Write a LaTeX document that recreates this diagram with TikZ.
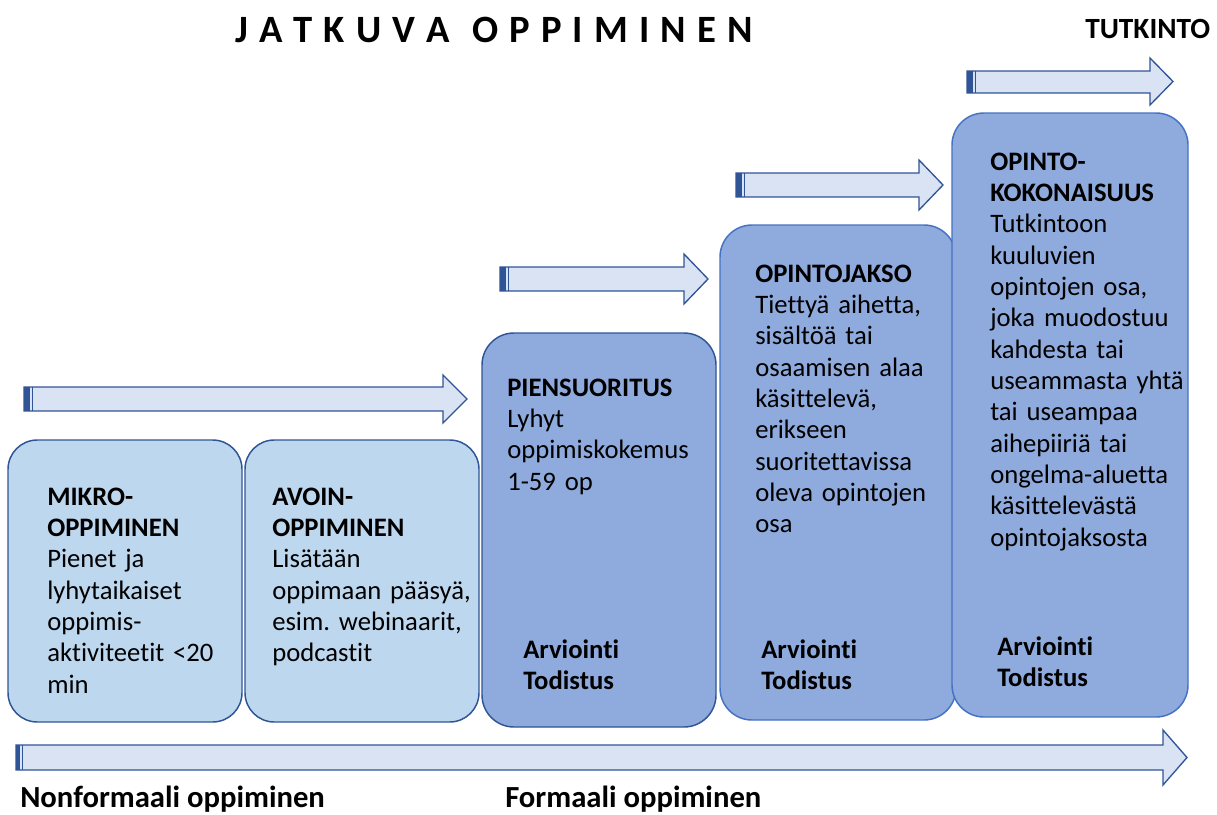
\documentclass[tikz,border=0pt]{standalone}
\usepackage{fontspec}
\setmainfont{Carlito}[RawFeature={-liga;-clig}]
\frenchspacing
\definecolor{lightfill}{HTML}{BDD7EE}
\definecolor{darkfill}{HTML}{8FAADC}
\definecolor{lineA}{HTML}{2F5597}
\definecolor{lineB}{HTML}{4472C4}
\definecolor{arrowfill}{HTML}{DAE3F3}
\newcommand{\striparrow}[7]{%
  \draw[arrowbody] (#1,#4) -- (#2,#4) -- (#2,#6) -- (#3,{(#6+#7)/2}) -- (#2,#7) -- (#2,#5) -- (#1,#5) -- cycle;
  \fill[lineA] (#1,#4) rectangle ({#1+6},#5);
  \draw[lineA, line width=1pt] ({#1+8.5},#4) -- ({#1+8.5},#5);
}
\begin{document}
\begin{tikzpicture}[x=0.75pt,y=-0.75pt,
  lightbox/.style={draw=lineA, fill=lightfill, line width=1.1pt, rounded corners=22pt},
  darkboxA/.style={draw=lineA, fill=darkfill, line width=1.1pt, rounded corners=24pt},
  darkboxB/.style={draw=lineB, fill=darkfill, line width=1.1pt, rounded corners=24pt},
  arrowbody/.style={draw=lineA, fill=arrowfill, line width=1pt, line join=miter},
  boxtext/.style={anchor=base west, inner sep=0pt, text width=160pt, align=left,
    font=\fontsize{20}{23.5}\selectfont},
  label/.style={anchor=base west, inner sep=0pt, font=\bfseries\fontsize{23}{27}\selectfont}
]
\useasboundingbox (0,0) rectangle (1217,814);

% title
\node (title) [anchor=base west, inner sep=0pt, font=\bfseries\fontsize{29}{34}\selectfont] at (235,42)
  {\makebox[388pt][s]{J\hfill A\hfill T\hfill K\hfill U\hfill V\hfill A\hfill\hfill O\hfill P\hfill P\hfill I\hfill M\hfill I\hfill N\hfill E\hfill N}};
\node (tutkinto) [anchor=base west, inner sep=0pt, font=\bfseries\fontsize{22}{26}\selectfont] at (1085,38) {TUTKINTO};

% arrows
\striparrow{24}{443}{467}{387}{411}{375}{423}
\striparrow{500}{684}{708}{267}{291}{254}{304}
\striparrow{736}{919}{943}{173}{197}{160}{210}
\striparrow{967}{1150}{1173}{71}{93}{58}{105}

% boxes
\draw[lightbox] (8,440) rectangle (242,722);
\draw[lightbox] (245,440) rectangle (479,722);
\draw[darkboxA] (482,333) rectangle (716,727);
\draw[darkboxB] (720,225) rectangle (956,720);
\draw[darkboxB] (952,113) rectangle (1188,717);

% box texts
\node (t1) [boxtext] at (47,505) {\textbf{MIKRO-}\\\textbf{OPPIMINEN}\\Pienet ja\\lyhytaikaiset\\oppimis-\\aktiviteetit <20\\min};
\node (t2) [boxtext] at (272,505) {\textbf{AVOIN-}\\\textbf{OPPIMINEN}\\Lisätään\\oppimaan pääsyä,\\esim. webinaarit,\\podcastit};
\node (t3) [boxtext] at (507,396) {\textbf{PIENSUORITUS}\\Lyhyt\\oppimiskokemus\\1-59 op};
\node (t4) [boxtext] at (755,282) {\textbf{OPINTOJAKSO}\\Tiettyä aihetta,\\sisältöä tai\\osaamisen alaa\\käsittelevä,\\erikseen\\suoritettavissa\\oleva opintojen\\osa};
\node (t5) [boxtext] at (990,170) {\textbf{OPINTO-}\\\textbf{KOKONAISUUS}\\Tutkintoon\\kuuluvien\\opintojen osa,\\joka muodostuu\\kahdesta tai\\useammasta yhtä\\tai useampaa\\aihepiiriä tai\\ongelma-aluetta\\käsittelevästä\\opintojaksosta};
\node (a3) [boxtext, font=\bfseries\fontsize{20}{23.5}\selectfont] at (523,658) {Arviointi\\Todistus};
\node (a4) [boxtext, font=\bfseries\fontsize{20}{23.5}\selectfont] at (761,658) {Arviointi\\Todistus};
\node (a5) [boxtext, font=\bfseries\fontsize{20}{23.5}\selectfont] at (997,655) {Arviointi\\Todistus};

% bottom arrow
\draw[arrowbody] (16,745) -- (1163,745) -- (1163,730) -- (1187,757.5) -- (1163,785) -- (1163,770) -- (16,770) -- cycle;
\fill[lineA] (16,745) rectangle (20,770);
\draw[lineA, line width=0.8pt] (22.5,745) -- (22.5,770);

\node (nonformal) [label] at (20,807) {Nonformaali oppiminen};
\node (formal) [label] at (505,807) {Formaali oppiminen};
\end{tikzpicture}
\end{document}
